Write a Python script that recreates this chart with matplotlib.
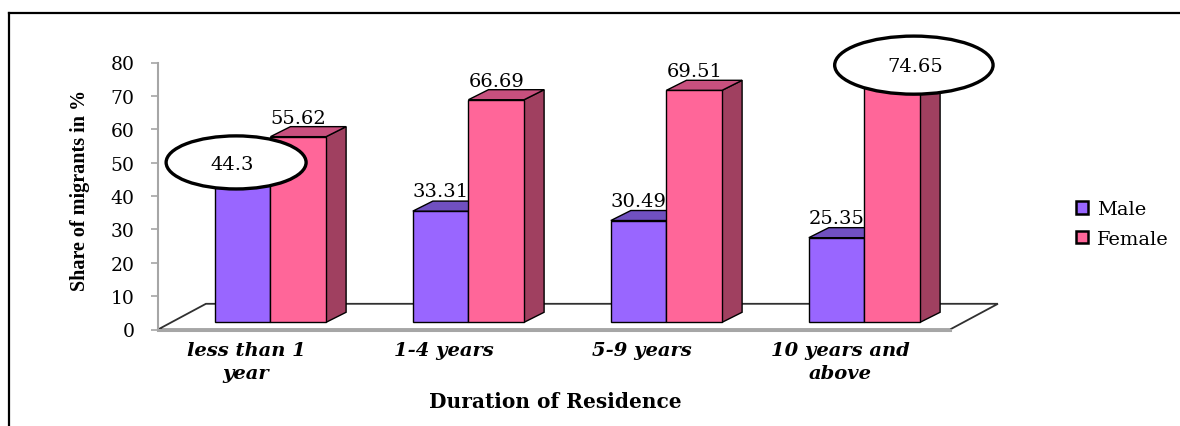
import matplotlib
matplotlib.use("Agg")
import matplotlib.pyplot as plt
from matplotlib.patches import Polygon, Ellipse
from matplotlib.lines import Line2D
import numpy as np

# data
categories = ["less than 1\nyear", "1-4 years", "5-9 years", "10 years and\nabove"]
male = [44.3, 33.31, 30.49, 25.35]
female = [55.62, 66.69, 69.51, 74.65]
series_names = ["Male", "Female"]
y_ticks = [0, 10, 20, 30, 40, 50, 60, 70, 80]

# colours: front, top, side
male_cols = ("#9966FF", "#7050C0", "#5A3C9E")
female_cols = ("#FF6699", "#C8507E", "#A04060")

# pseudo 3d geometry (data units)
W = 0.281          # bar width
SHIFT_X, BASE = 0.068, 2.16   # bar front face position inside the floor
DX, DY = 0.101, 3.0           # bar depth
FDX, FDY = 0.242, 7.7         # floor depth

fig = plt.figure(figsize=(11.8, 4.27), dpi=100)
ax = fig.add_axes([158 / 1180, 1 - 330.5 / 427, 792 / 1180, 267 / 427])
ax.set_xlim(-0.5, 3.5)
ax.set_ylim(0, 80)
for s in ["top", "right", "bottom"]:
    ax.spines[s].set_visible(False)
ax.spines["left"].set_color("#A6A6A6")
ax.spines["left"].set_linewidth(1.5)
ax.set_xticks([])
ax.set_yticks(y_ticks)
ax.tick_params(axis="y", length=5, width=1.2, color="#A6A6A6", pad=12,
               labelsize=13.5)
for lab in ax.get_yticklabels():
    lab.set_family("DejaVu Serif")

x = np.arange(len(categories))

# floor
floor = Polygon([(-0.5, 0), (-0.5 + FDX, FDY), (3.5 + FDX, FDY), (3.5, 0)],
                closed=True, facecolor="white", edgecolor="#303030", lw=1.3,
                clip_on=False, zorder=1)
ax.add_patch(floor)
ax.plot([-0.5, 3.5], [0, 0], color="#A6A6A6", lw=2.2, clip_on=False, zorder=1.5)


def draw_bars(lefts, vals, cols, z):
    ax.bar(lefts, vals, width=W, bottom=BASE, align="edge", color=cols[0],
           edgecolor="black", lw=1, clip_on=False, zorder=z + 0.1)
    for l, v in zip(lefts, vals):
        r = l + W
        t = BASE + v
        side = Polygon([(r, BASE), (r + DX, BASE + DY), (r + DX, t + DY), (r, t)],
                       facecolor=cols[2], edgecolor="black", lw=1,
                       clip_on=False, zorder=z)
        top = Polygon([(l, t), (l + DX, t + DY), (r + DX, t + DY), (r, t)],
                      facecolor=cols[1], edgecolor="black", lw=1,
                      clip_on=False, zorder=z + 0.2)
        ax.add_patch(side)
        ax.add_patch(top)


male_left = x + SHIFT_X - W
female_left = x + SHIFT_X
draw_bars(male_left, male, male_cols, 2)
draw_bars(female_left, female, female_cols, 3)

# value labels
lab_font = dict(family="DejaVu Serif", fontsize=14, ha="center", va="center")
for i in range(len(categories)):
    if i != 0:
        ax.annotate(f"{male[i]:g}", (male_left[i] + W / 2, BASE + male[i] + DY),
                    xytext=(0, 10), textcoords="offset pixels",
                    zorder=6, annotation_clip=False, **lab_font)
    if i != 3:
        ax.annotate(f"{female[i]:g}", (female_left[i] + W / 2, BASE + female[i] + DY),
                    xytext=(0, 9), textcoords="offset pixels",
                    zorder=6, annotation_clip=False, **lab_font)

# circled labels
cx, cy = male_left[0] + W / 2 - 0.053, BASE + male[0] + DY
ax.add_patch(Ellipse((cx + 0.02, cy + 0.6), 0.707, 15.9, facecolor="white",
                     edgecolor="black", lw=2.4, clip_on=False, zorder=7))
ax.text(cx, cy, f"{male[0]:g}", zorder=8, clip_on=False, **lab_font)

cx, cy = female_left[3] + W / 2 + 0.114, BASE + female[3] + DY - 0.9
ax.add_patch(Ellipse((cx - 0.005, cy + 0.3), 0.80, 17.4, facecolor="white",
                     edgecolor="black", lw=2.4, clip_on=False, zorder=7))
ax.text(cx, cy, f"{female[3]:g}", zorder=8, clip_on=False, **lab_font)

# category labels
for i, c in enumerate(categories):
    ax.annotate(c, (x[i] - 0.055, 0), xytext=(0, -12), textcoords="offset pixels",
                ha="center", va="top", family="DejaVu Serif", fontsize=14,
                fontweight="bold", fontstyle="italic", linespacing=1.35,
                annotation_clip=False)

fig.text(80 / 1180, 1 - 190 / 427, "Share of migrants in %", rotation=90,
         ha="center", va="center", family="Liberation Serif", fontweight="bold",
         fontsize=14.5)
fig.text(555 / 1180, 1 - 402 / 427, "Duration of Residence", ha="center",
         va="center", family="DejaVu Serif", fontweight="bold", fontsize=14.5)

# legend
handles = [plt.Rectangle((0, 0), 1, 1, facecolor=male_cols[0], edgecolor="black", lw=1.8),
           plt.Rectangle((0, 0), 1, 1, facecolor=female_cols[0], edgecolor="black", lw=1.8)]
leg = fig.legend(handles, series_names, loc="center left",
                 bbox_to_anchor=(1058 / 1180, 1 - 225 / 427), frameon=False,
                 handlelength=0.65, handleheight=0.65, handletextpad=0.45,
                 labelspacing=0.6, prop=dict(family="DejaVu Serif", size=14))

# frame
fig.add_artist(Line2D([9 / 1180, 1], [1 - 14 / 427] * 2, color="black", lw=1.6))
fig.add_artist(Line2D([9 / 1180] * 2, [0, 1 - 14 / 427], color="black", lw=1.6))

fig.savefig("out.png", dpi=100)
